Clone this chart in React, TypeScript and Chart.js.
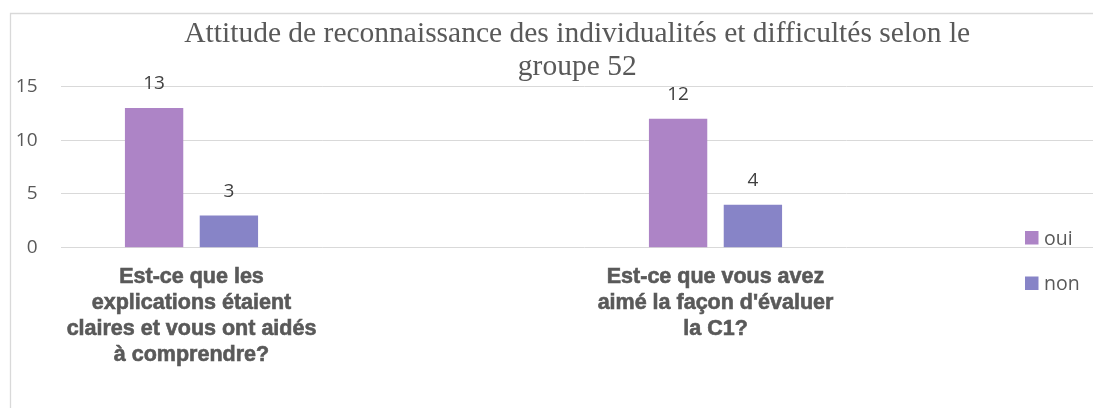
import React, { useEffect, useRef } from "react";
import { Chart, registerables } from "chart.js";

Chart.register(...registerables);

// ---- data ----
const titleLines = [
  "Attitude de reconnaissance des individualités et difficultés selon le",
  "groupe 52",
];
const categories = [
  ["Est-ce que les", "explications étaient", "claires et vous ont aidés", "à comprendre?"],
  ["Est-ce que vous avez", "aimé la façon d'évaluer", "la C1?"],
];
const seriesNames = ["oui", "non"];
const ouiValues = [13, 12];
const nonValues = [3, 4];
const yTicks = [0, 5, 10, 15];
const seriesColors = ["#ad84c6", "#8784c7"];

const SANS = "'Open Sans', 'Noto Sans', sans-serif";

const framePlugin = {
  id: "frame",
  beforeDraw(chart: any) {
    const ctx = chart.ctx;
    ctx.save();
    ctx.strokeStyle = "#d9d9d9";
    ctx.lineWidth = 1.3;
    ctx.beginPath();
    ctx.moveTo(10.5, chart.height + 5);
    ctx.lineTo(10.5, 13.5);
    ctx.lineTo(chart.width + 5, 13.5);
    ctx.stroke();
    ctx.restore();
  },
};

const dataLabelPlugin = {
  id: "dataLabels",
  afterDatasetsDraw(chart: any) {
    const ctx = chart.ctx;
    ctx.save();
    ctx.font = `19px ${SANS}`;
    ctx.fillStyle = "#404040";
    ctx.textAlign = "center";
    ctx.textBaseline = "alphabetic";
    chart.data.datasets.forEach((ds: any, i: number) => {
      const meta = chart.getDatasetMeta(i);
      meta.data.forEach((el: any, j: number) => {
        const v = ds.data[j];
        if (v === null || v === undefined) return;
        ctx.fillText(String(v), el.x, el.y - 18.7);
      });
    });
    ctx.restore();
  },
};

const legendPlugin = {
  id: "sideLegend",
  afterDraw(chart: any) {
    const ctx = chart.ctx;
    const x = 1025;
    const y0 = 231;
    const step = 45.5;
    const box = 13.5;
    ctx.save();
    ctx.font = `19.5px ${SANS}`;
    ctx.textAlign = "left";
    ctx.textBaseline = "alphabetic";
    chart.data.datasets.forEach((ds: any, i: number) => {
      const y = y0 + i * step;
      ctx.fillStyle = ds.backgroundColor;
      ctx.fillRect(x, y, box, box);
      ctx.fillStyle = "#595959";
      ctx.fillText(ds.label, x + 19, y + box);
    });
    ctx.restore();
  },
};

export default function App() {
  const ref = useRef<HTMLCanvasElement>(null);

  useEffect(() => {
    if (!ref.current) return;
    const labels = categories.flatMap((c) => [c, ""]);
    const pad = (arr: number[]) => arr.flatMap((v) => [v, null]);
    const chart = new Chart(ref.current, {
      type: "bar",
      data: {
        labels,
        datasets: [
          {
            label: seriesNames[0],
            data: pad(ouiValues),
            backgroundColor: seriesColors[0],
            categoryPercentage: 0.571,
            barPercentage: 0.78,
          },
          {
            label: seriesNames[1],
            data: pad(nonValues),
            backgroundColor: seriesColors[1],
            categoryPercentage: 0.571,
            barPercentage: 0.78,
          },
        ],
      },
      options: {
        responsive: false,
        animation: false,
        events: [],
        layout: { padding: { left: 15.5, top: 0, right: 16, bottom: 30.3 } },
        plugins: {
          legend: { display: false },
          tooltip: { enabled: false },
          title: {
            display: true,
            text: titleLines,
            color: "#595959",
            font: {
              family: "'Liberation Serif', 'Times New Roman', serif",
              size: 29.5,
              weight: "normal",
              lineHeight: 1.119,
            },
            padding: { top: 17.8, bottom: 2.7 },
          },
        },
        scales: {
          x: {
            grid: { display: false, drawTicks: false, tickLength: 0 },
            border: { display: false },
            ticks: {
              autoSkip: false,
              maxRotation: 0,
              minRotation: 0,
              padding: 16,
              color: "#595959",
              textStrokeColor: "#595959",
              textStrokeWidth: 0.6,
              font: {
                family: "'Liberation Sans', Arial, sans-serif",
                size: 21.5,
                weight: "bold",
                lineHeight: 1.22,
              },
            },
            afterFit: (s: any) => {
              s.height = 130;
            },
          },
          y: {
            min: 0,
            max: 15,
            afterBuildTicks: (s: any) => {
              s.ticks = yTicks.map((v) => ({ value: v }));
            },
            grid: { color: "#d9d9d9", drawTicks: false },
            border: { display: false },
            ticks: {
              padding: 23,
              color: "#595959",
              font: { family: SANS, size: 19 },
            },
            afterFit: (s: any) => {
              s.width = 45;
            },
          },
          // empty right-hand axis that only reserves space so that the
          // full-width title stays centred like in the original chart
          yRight: {
            position: "right",
            display: true,
            grid: { display: false, drawTicks: false },
            border: { display: false },
            ticks: { display: false },
            afterFit: (s: any) => {
              s.width = 30.5;
            },
          },
        },
      },
      plugins: [framePlugin, dataLabelPlugin, legendPlugin],
    } as any);
    return () => chart.destroy();
  }, []);

  return (
    <div
      style={{
        position: "fixed",
        left: 0,
        top: 0,
        width: "100vw",
        height: "100vh",
        overflow: "hidden",
        background: "#ffffff",
      }}
    >
      <canvas ref={ref} width={1155} height={408} style={{ display: "block" }} />
    </div>
  );
}
